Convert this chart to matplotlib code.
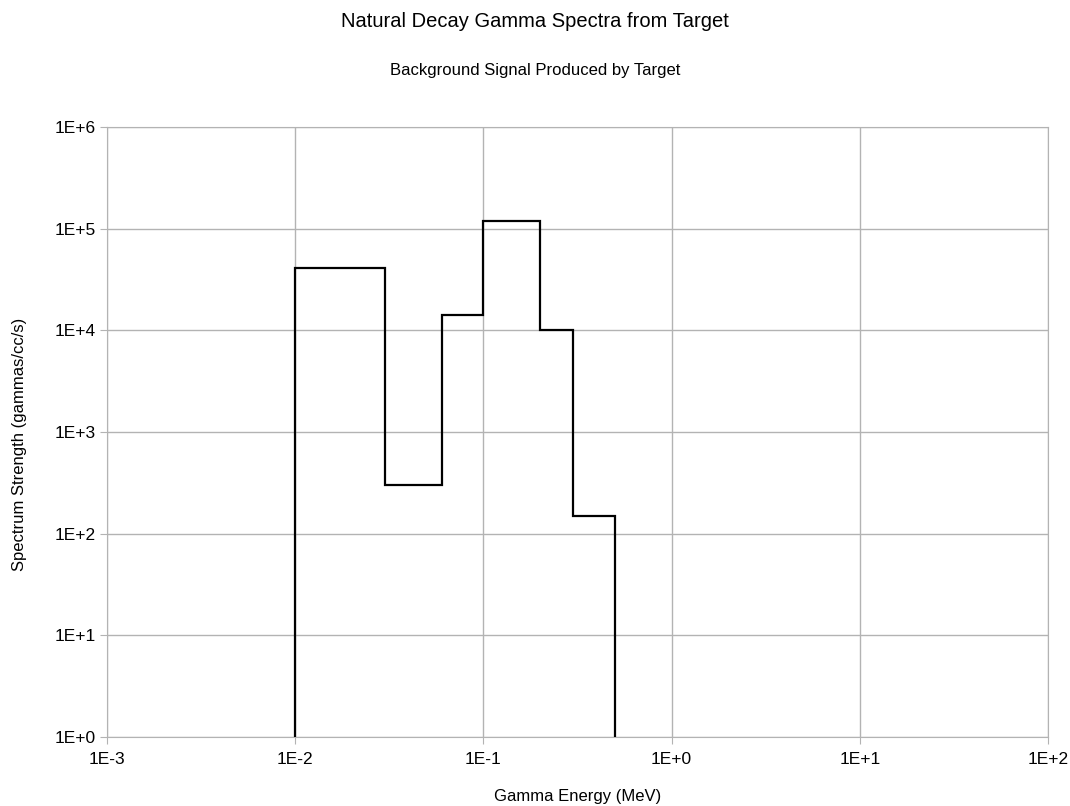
import numpy as np
import matplotlib.pyplot as plt

plt.rcParams['font.family'] = ['Liberation Sans', 'DejaVu Sans']

# bin edges (MeV) and strength per bin (gammas/cc/s)
edges = [0.01, 0.03, 0.06, 0.1, 0.2, 0.3, 0.5]
strength = [4.1e4, 300, 1.4e4, 1.2e5, 1.0e4, 150]

xticks = [1e-3, 1e-2, 1e-1, 1e0, 1e1, 1e2]
xlabels = ["1E-3", "1E-2", "1E-1", "1E+0", "1E+1", "1E+2"]
yticks = [1e0, 1e1, 1e2, 1e3, 1e4, 1e5, 1e6]
ylabels = ["1E+0", "1E+1", "1E+2", "1E+3", "1E+4", "1E+5", "1E+6"]

fig = plt.figure(figsize=(10.7, 8.06), dpi=100)
ax = fig.add_axes([0.1, 0.0856, 0.8794, 0.7568])
ax.set_axisbelow(True)

ax.stairs(strength, edges, baseline=1, color='black', linewidth=1.6, zorder=3)

ax.set_xscale('log')
ax.set_yscale('log')
ax.set_xlim(1e-3, 1e2)
ax.set_ylim(1e0, 1e6)
ax.set_xticks(xticks, xlabels)
ax.set_yticks(yticks, ylabels)
ax.minorticks_off()
ax.tick_params(labelsize=12.5, color='#b3b3b3', length=5)
ax.tick_params(axis='y', pad=3)
ax.tick_params(axis='x', pad=6)
ax.grid(True, color='#b3b3b3', linewidth=1)
for s in ax.spines.values():
    s.set_color('#b3b3b3')

ax.set_xlabel("Gamma Energy (MeV)", fontsize=12, va='center')
ax.set_ylabel("Spectrum Strength (gammas/cc/s)", fontsize=12, va='center')
ax.xaxis.set_label_coords(0.5, -0.098)
ax.yaxis.set_label_coords(-0.0925, 0.479)

fig.text(0.5, 0.973, "Natural Decay Gamma Spectra from Target", ha='center', va='center', fontsize=14.5)
fig.text(0.5, 0.913, "Background Signal Produced by Target", ha='center', va='center', fontsize=12)

fig.savefig("out.png")
